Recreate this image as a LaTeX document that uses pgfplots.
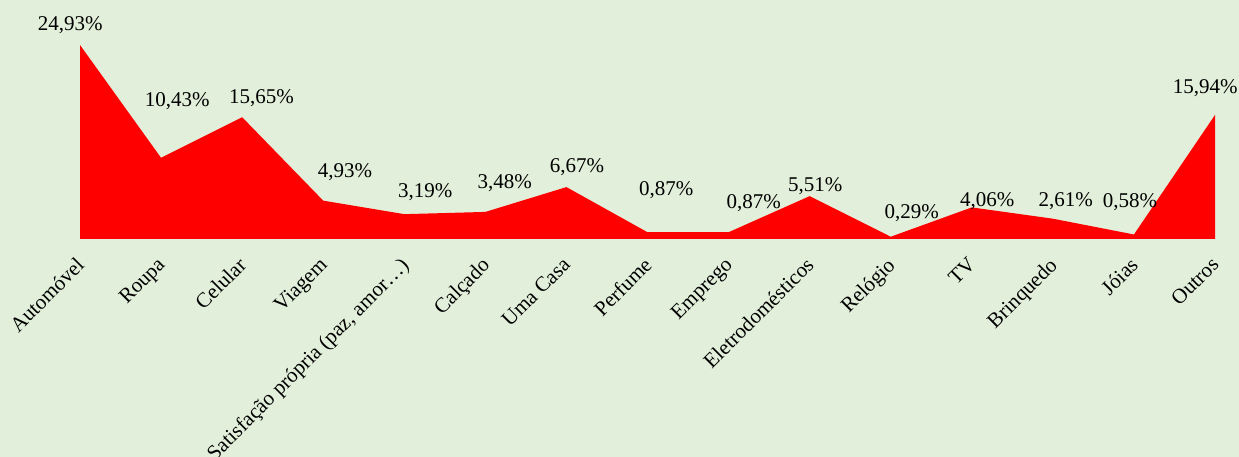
\documentclass[border=0pt]{standalone}
\usepackage{fontspec}
\setmainfont{Liberation Serif}
\usepackage{pgfplots}
\usepackage{pgfplotstable}
\pgfplotsset{compat=1.18}
\definecolor{bg}{HTML}{E2EFDA}

% x, value, label position (lx, ly) in axis units
\pgfplotstableread{
x  y      lx     ly
0  24.93  -0.12  27.50
1  10.43   1.20  17.73
2  15.65   2.24  18.12
3   4.93   3.27   8.61
4   3.19   4.26   6.04
5   3.48   5.24   7.20
6   6.67   6.13   9.25
7   0.87   7.23   6.30
8   0.87   8.31   4.63
9   5.51   9.07   6.81
10  0.29  10.26   3.34
11  4.06  11.19   4.88
12  2.61  12.16   4.88
13  0.58  12.95   4.75
14 15.94  13.88  19.40
}\data

\begin{document}
\begin{tikzpicture}
  \fill[bg] (0,0) rectangle (1239pt,457pt);
  \begin{axis}[
      at={(80pt,218pt)}, anchor=south west,
      scale only axis,
      width=1135pt, height=194pt,
      xmin=0, xmax=14, ymin=0, ymax=24.93,
      clip=false,
      axis line style={draw=none},
      ytick=\empty,
      xtick={0,...,14},
      major tick length=0pt,
      /pgf/number format/assume math mode=true,
      xticklabels={Automóvel, Roupa, Celular, Viagem,
        {Satisfação própria (paz, amor…)}, Calçado, Uma Casa, Perfume,
        Emprego, Eletrodomésticos, Relógio, TV, Brinquedo, Jóias, Outros},
      xticklabel style={xshift=-5pt, yshift=-17pt, rotate=45,
        anchor=north east, inner sep=0pt,
        font=\fontsize{21}{24}\selectfont},
    ]
    \addplot[fill=red, draw=none] table[x=x, y=y] {\data} \closedcycle;
    \addplot[draw=none, mark=none,
      point meta=\thisrow{y},
      nodes near coords={\pgfmathprintnumber[fixed, fixed zerofill,
        precision=2, use comma, assume math mode=true]{\pgfplotspointmeta}\%},
      every node near coord/.append style={anchor=center, inner sep=0pt,
        text=black, font=\fontsize{21}{24}\selectfont},
    ] table[x=lx, y=ly] {\data};
  \end{axis}
  \pgfresetboundingbox
  \path[use as bounding box] (0,0) rectangle (1239pt,457pt);
\end{tikzpicture}
\end{document}
